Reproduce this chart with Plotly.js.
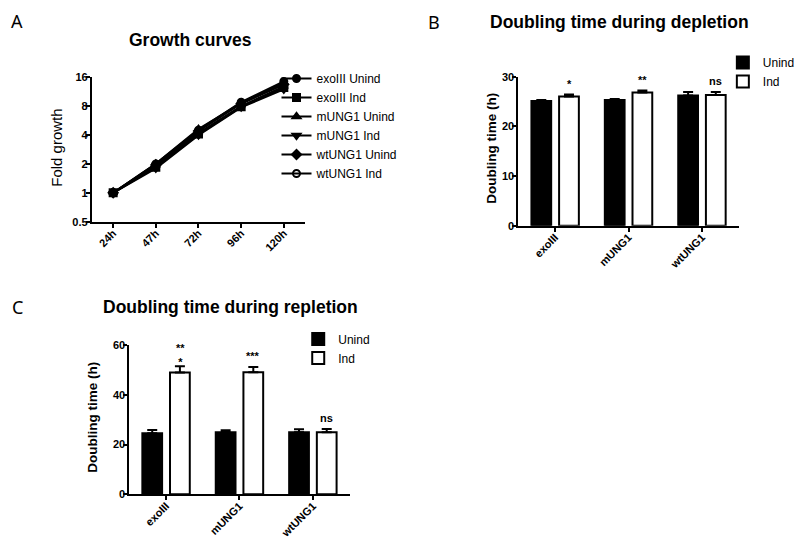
<!DOCTYPE html>
<html>
<head>
<meta charset="utf-8">
<script src="https://cdn.plot.ly/plotly-3.0.1.min.js"></script>
<style>html,body{margin:0;padding:0;background:#fff;}#chart{width:800px;height:550px;}</style>
</head>
<body>
<div id="chart"></div>
<script>
// ---- Data: panel A (growth curves) ----
const timepoints = ['24h', '47h', '72h', '96h', '120h'];
const exoIIIUnind = [1, 2.0, 4.5, 8.8, 14.5];
const exoIIIInd   = [1, 1.85, 4.1, 7.9, 12.5];
const mUNG1Unind  = [1, 2.0, 4.6, 8.6, 14.0];
const mUNG1Ind    = [1, 1.8, 4.0, 7.8, 12.0];
const wtUNG1Unind = [1, 1.95, 4.4, 8.5, 13.5];
const wtUNG1Ind   = [1, 1.9, 4.2, 8.0, 12.8];
const growthTicks = [0.5, 1, 2, 4, 8, 16];

// ---- Data: panels B and C (doubling times) ----
const strains = ['exoIII', 'mUNG1', 'wtUNG1'];
const depletionUnind    = [25.1, 25.3, 26.2];
const depletionUnindErr = [0.2, 0.2, 0.7];
const depletionInd      = [26.0, 26.8, 26.3];
const depletionIndErr   = [0.4, 0.4, 0.6];
const depletionSig      = ['*', '**', 'ns'];

const repletionUnind    = [24.6, 25.0, 25.0];
const repletionUnindErr = [1.3, 0.8, 1.2];
const repletionInd      = [49.0, 49.1, 25.0];
const repletionIndErr   = [2.6, 2.2, 1.3];
const repletionSig      = ['**<br>*', '***', 'ns'];

const FONT = 'Liberation Sans, Arial, sans-serif';
const black = '#000000';

const growthSeries = [
  {name: 'exoIII Unind', y: exoIIIUnind, symbol: 'circle'},
  {name: 'exoIII Ind', y: exoIIIInd, symbol: 'square'},
  {name: 'mUNG1 Unind', y: mUNG1Unind, symbol: 'triangle-up'},
  {name: 'mUNG1 Ind', y: mUNG1Ind, symbol: 'triangle-down'},
  {name: 'wtUNG1 Unind', y: wtUNG1Unind, symbol: 'diamond'},
  {name: 'wtUNG1 Ind', y: wtUNG1Ind, symbol: 'circle-open'}
];

const traces = growthSeries.map(s => ({
  type: 'scatter', mode: 'lines+markers',
  x: timepoints, y: s.y, name: s.name,
  xaxis: 'x', yaxis: 'y', legend: 'legend',
  line: {color: black, width: 2.2},
  marker: {symbol: s.symbol, size: 7, color: black, line: {color: black, width: 2}},
  cliponaxis: false
}));

function barPair(xa, ya, lg, u, ue, i, ie) {
  const zeros = ue.map(() => 0);
  return [
    {type: 'bar', name: 'Unind', x: strains, y: u, xaxis: xa, yaxis: ya, legend: lg,
     marker: {color: black, line: {color: black, width: 2}},
     error_y: {type: 'data', array: ue, arrayminus: zeros, symmetric: false, color: black, thickness: 2, width: 5}},
    {type: 'bar', name: 'Ind', x: strains, y: i, xaxis: xa, yaxis: ya, legend: lg,
     marker: {color: '#ffffff', line: {color: black, width: 2}},
     error_y: {type: 'data', array: ie, arrayminus: zeros, symmetric: false, color: black, thickness: 2, width: 5}}
  ];
}
traces.push(...barPair('x2', 'y2', 'legend2', depletionUnind, depletionUnindErr, depletionInd, depletionIndErr));
traces.push(...barPair('x3', 'y3', 'legend3', repletionUnind, repletionUnindErr, repletionInd, repletionIndErr));

const tickFont = {family: FONT, size: 11, color: black, weight: 'bold'};
function xAxis(domain, anchor, n) {
  return {domain: domain, anchor: anchor, type: 'category', range: [-0.5, n - 0.5],
    showline: true, linecolor: black, linewidth: 2, ticks: 'outside', ticklen: 4, tickwidth: 2, tickcolor: black,
    tickangle: -45, tickfont: tickFont, ticklabelstandoff: -5, showgrid: false, zeroline: false, fixedrange: true};
}
function yAxis(domain, anchor, extra) {
  return Object.assign({domain: domain, anchor: anchor,
    showline: true, linecolor: black, linewidth: 2, ticks: 'outside', ticklen: 4, tickwidth: 2, tickcolor: black,
    tickfont: tickFont, ticklabelstandoff: -4, showgrid: false, zeroline: false, fixedrange: true}, extra);
}

const W = 800, H = 550;
const px = v => v / W, py = v => 1 - v / H;

const annotations = [
  {text: 'A', x: px(17.5), y: py(21.5)},
  {text: 'B', x: px(439), y: py(22.5)},
  {text: 'C', x: px(17.5), y: py(306.5)}
].map(a => Object.assign(a, {xref: 'paper', yref: 'paper', xanchor: 'center', yanchor: 'middle', showarrow: false,
  font: {family: 'Noto Sans, sans-serif', size: 18, color: black}}));

[
  {text: 'Growth curves', x: px(193), y: py(40.5)},
  {text: 'Doubling time during depletion', x: px(627.5), y: py(22.5)},
  {text: 'Doubling time during repletion', x: px(233), y: py(306.5)}
].forEach(a => annotations.push(Object.assign(a, {xref: 'paper', yref: 'paper', xanchor: 'center', yanchor: 'middle',
  showarrow: false, font: {family: FONT, size: 17.5, color: black, weight: 'bold'}})));

// y-axis titles
[
  {text: 'Fold growth', x: px(57.5), y: py(148), font: {family: FONT, size: 15, color: black}},
  {text: 'Doubling time (h)', x: px(498), y: py(148), font: {family: FONT, size: 13.5, color: black, weight: 'bold'}},
  {text: 'Doubling time (h)', x: px(93), y: py(417), font: {family: FONT, size: 13.5, color: black, weight: 'bold'}}
].forEach(a => annotations.push(Object.assign(a, {xref: 'paper', yref: 'paper', xanchor: 'center', yanchor: 'middle',
  textangle: -90, showarrow: false})));

function sigAnn(sig, vals, errs, xr, yr) {
  sig.forEach((t, k) => annotations.push({
    text: t, xref: xr, yref: yr, x: k + 0.19, y: vals[k] + errs[k], xanchor: 'center', yanchor: 'bottom',
    yshift: t.indexOf('<br>') >= 0 ? -4 : 3, showarrow: false, font: {family: FONT, size: 11, color: black, weight: 'bold'}
  }));
}
sigAnn(depletionSig, depletionInd, depletionIndErr, 'x2', 'y2');
sigAnn(repletionSig, repletionInd, repletionIndErr, 'x3', 'y3');

const legendBase = {bgcolor: 'rgba(0,0,0,0)', borderwidth: 0, xanchor: 'left', yanchor: 'top',
  font: {family: FONT, size: 12, color: black}, tracegroupgap: 0, itemclick: false, itemdoubleclick: false};

const layout = {
  width: W, height: H, margin: {l: 0, r: 0, t: 0, b: 0},
  paper_bgcolor: '#ffffff', plot_bgcolor: '#ffffff',
  showlegend: true,
  barmode: 'group', bargap: 0.246, bargroupgap: 0.286,
  xaxis: xAxis([px(93), px(309)], 'y', timepoints.length),
  yaxis: yAxis([py(221.7), py(77.3)], 'x', {type: 'log', range: [Math.log10(0.5), Math.log10(16)],
    tickvals: growthTicks, ticktext: growthTicks.map(String)}),
  xaxis2: xAxis([px(525), px(748)], 'y2', strains.length),
  yaxis2: yAxis([py(225.7), py(76.7)], 'x2', {range: [0, 30], dtick: 10}),
  xaxis3: xAxis([px(131), px(354)], 'y3', strains.length),
  yaxis3: yAxis([py(494.3), py(345.3)], 'x3', {range: [0, 60], dtick: 20}),
  legend: Object.assign({}, legendBase, {x: px(280), y: py(64)}),
  legend2: Object.assign({}, legendBase, {x: px(732), y: py(48)}),
  legend3: Object.assign({}, legendBase, {x: px(302), y: py(324.5)}),
  annotations: annotations
};

Plotly.newPlot('chart', traces, layout, {displayModeBar: false, staticPlot: true});
</script>
</body>
</html>
